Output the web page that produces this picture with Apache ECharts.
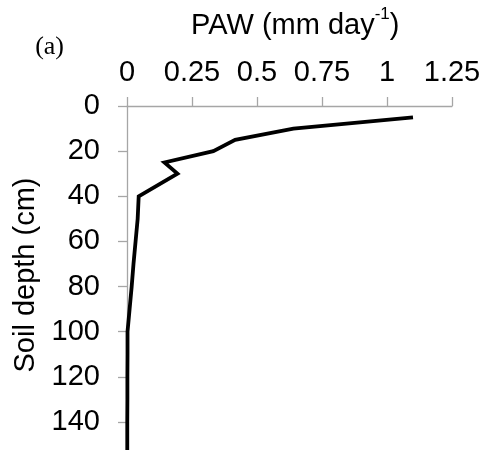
<!DOCTYPE html>
<html>
<head>
<meta charset="utf-8">
<script src="https://cdn.jsdelivr.net/npm/echarts@6/dist/echarts.min.js"></script>
<style>
html,body{margin:0;padding:0;background:#fff;}
#chart{width:486px;height:450px;}
</style>
</head>
<body>
<div id="chart"></div>
<script>
// Data
const depths = [5, 10, 15, 20, 25, 30, 40, 50, 60, 70, 80, 90, 100, 110, 120, 130, 140, 150, 155];
const paw = [1.10, 0.64, 0.416, 0.332, 0.144, 0.194, 0.045, 0.041, 0.033, 0.025, 0.018, 0.010, 0.002, 0.002, 0.0015, 0.0015, 0.001, 0.001, 0.001];
const xTicks = [0, 0.25, 0.5, 0.75, 1, 1.25];
const yTicks = [0, 20, 40, 60, 80, 100, 120, 140];
const titleText = 'PAW (mm day';
const titleSup = '-1';
const yName = 'Soil depth (cm)';
const panelLabel = '(a)';

const FONT = '"Liberation Sans", Arial, sans-serif';
const FS = 29;
const axisGray = '#a6a6a6';

const chart = echarts.init(document.getElementById('chart'));
chart.setOption({
  animation: false,
  backgroundColor: '#fff',
  grid: { left: 127, top: 106, width: 325, height: 361, containLabel: false, outerBoundsMode: 'none' },
  xAxis: {
    type: 'value', position: 'top', min: 0, max: 1.25, interval: 0.25,
    axisLine: { show: true, lineStyle: { color: axisGray, width: 1.3 } },
    axisTick: { show: true, inside: false, length: 9, lineStyle: { color: axisGray, width: 1.3 } },
    splitLine: { show: false },
    axisLabel: {
      margin: 19, fontSize: FS, fontFamily: FONT, color: '#000',
      formatter: v => xTicks.indexOf(+v.toFixed(2)) >= 0 ? String(+v.toFixed(2)) : ''
    }
  },
  yAxis: {
    type: 'value', inverse: true, min: 0, max: 160, interval: 20,
    axisLine: { show: true, onZero: false, lineStyle: { color: axisGray, width: 1.3 } },
    axisTick: { show: true, inside: false, length: 9, lineStyle: { color: axisGray, width: 1.3 } },
    splitLine: { show: false },
    axisLabel: {
      margin: 27, fontSize: FS, fontFamily: FONT, color: '#000',
      formatter: v => yTicks.indexOf(v) >= 0 ? String(v) : ''
    }
  },
  series: [{
    type: 'line',
    data: depths.map((d, i) => [paw[i], d]),
    showSymbol: false, symbol: 'none',
    lineStyle: { color: '#000', width: 3.8, join: 'miter' },
    clip: false
  }],
  graphic: [
    {
      type: 'text',
      x: 191, y: 23,
      style: {
        text: '{m|' + titleText + '}{s|' + titleSup + '}{m|)}',
        verticalAlign: 'middle',
        rich: {
          m: { fontSize: FS, fontFamily: FONT, fill: '#000', verticalAlign: 'bottom', lineHeight: 34 },
          s: { fontSize: 17, fontFamily: FONT, fill: '#000', verticalAlign: 'top', lineHeight: 34 }
        }
      }
    },
    {
      type: 'text',
      style: { text: panelLabel, font: '26px "Liberation Serif", "Times New Roman", serif', fill: '#000', textAlign: 'right', textVerticalAlign: 'middle' },
      x: 64, y: 47
    },
    {
      type: 'text',
      style: { text: yName, font: FS + 'px ' + FONT, fill: '#000', textAlign: 'center', textVerticalAlign: 'middle' },
      x: 26, y: 275, rotation: Math.PI / 2
    }
  ]
});
</script>
</body>
</html>
